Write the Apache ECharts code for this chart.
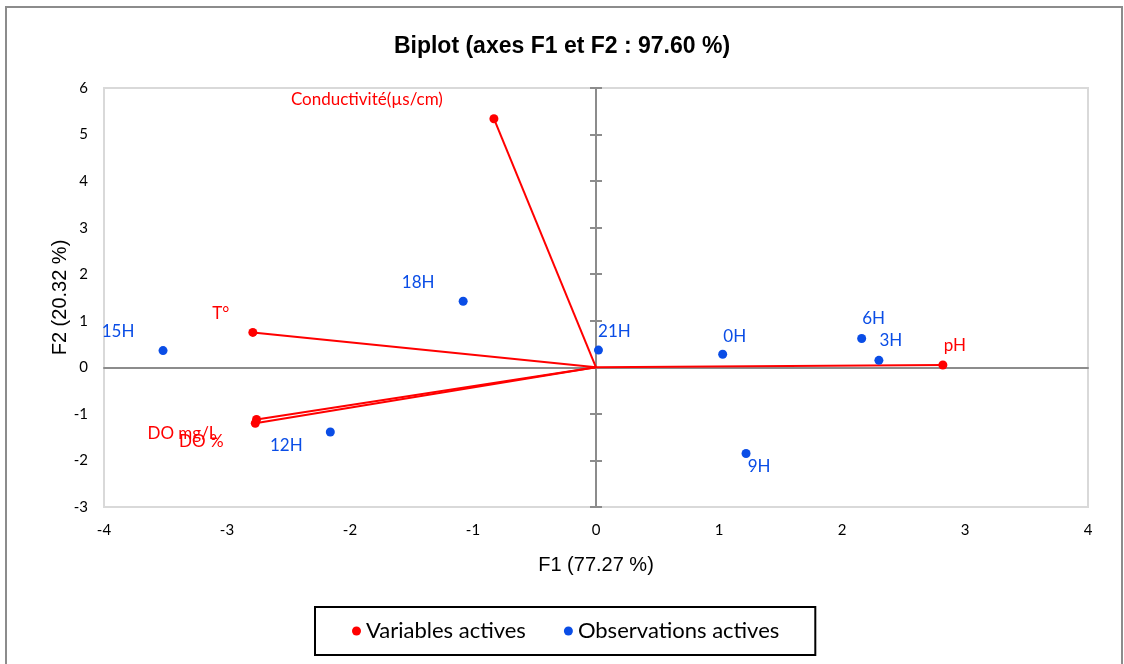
<!DOCTYPE html>
<html>
<head>
<meta charset="utf-8">
<script src="https://cdn.jsdelivr.net/npm/echarts@6/dist/echarts.min.js"></script>
<style>html,body{margin:0;padding:0;background:#fff}#c{width:1124px;height:664px}</style>
</head>
<body>
<div id="c"></div>
<script>
// ---- data ----
const varNames = ['Conductivité(µs/cm)', 'T°', 'DO mg/L', 'DO %', 'pH'];
const varF1 = [-0.83, -2.79, -2.76, -2.77, 2.82];
const varF2 = [5.34, 0.75, -1.12, -1.20, 0.05];
const obsNames = ['15H', '18H', '21H', '0H', '6H', '3H', '9H', '12H'];
const obsF1 = [-3.52, -1.08, 0.02, 1.03, 2.16, 2.30, 1.22, -2.16];
const obsF2 = [0.36, 1.42, 0.37, 0.28, 0.62, 0.15, -1.85, -1.39];
const xTicks = [-4, -3, -2, -1, 0, 1, 2, 3, 4];
const yTicks = [-3, -2, -1, 0, 1, 2, 3, 4, 5, 6];

// ---- label offsets (style) ----
const varLabelOffset = [[-127, -19], [-32, -19], [-74, 14], [-54, 18], [12, -19]];
const obsLabelOffset = [[-45, -19], [-45, -19], [16, -19], [12, -18], [12, -20], [12, -20], [13, 13], [-44, 13]];

const RED = '#ff0000';
const BLUE = '#0a4de6';
const labelFont = 'Lato, "Open Sans", sans-serif';
const arial = '"Liberation Sans", Arial, sans-serif';

const chart = echarts.init(document.getElementById('c'));

const vectorSeries = varNames.map((n, i) => ({
  type: 'line',
  name: 'vec' + i,
  xAxisIndex: 0, yAxisIndex: 0,
  data: [[0, 0], [varF1[i], varF2[i]]],
  symbol: 'none',
  lineStyle: { color: RED, width: 2 },
  silent: true,
  z: 3
}));

const baseX = {
  type: 'value', min: xTicks[0], max: xTicks[xTicks.length - 1], interval: 1,
  splitLine: { show: false }
};
const baseY = {
  type: 'value', min: yTicks[0], max: yTicks[yTicks.length - 1], interval: 1,
  splitLine: { show: false }
};

chart.setOption({
  animation: false,
  backgroundColor: '#fff',
  title: {
    text: 'Biplot (axes F1 et F2 : 97.60 %)',
    left: 'center', top: 30,
    textStyle: { fontFamily: arial, fontWeight: 'bold', fontSize: 23, color: '#000' }
  },
  graphic: [{
    type: 'rect', silent: true,
    shape: { x: 6, y: 7, width: 1116, height: 700 },
    style: { fill: 'none', stroke: '#8c8c8c', lineWidth: 2 }
  }],
  legend: {
    data: ['Variables actives', 'Observations actives'],
    left: 315, top: 607,
    padding: [13, 36, 13, 37],
    itemGap: 38,
    itemWidth: 9, itemHeight: 9,
    borderColor: '#000', borderWidth: 2,
    icon: 'circle',
    textStyle: { fontFamily: labelFont, fontSize: 22, color: '#000' }
  },
  grid: {
    left: 104, right: 36, top: 88, bottom: 157,
    show: true, borderColor: '#d9d9d9', borderWidth: 2, backgroundColor: 'transparent'
  },
  xAxis: [
    Object.assign({}, baseX, {
      position: 'bottom',
      axisLine: { show: false, onZero: false },
      axisTick: { show: false },
      axisLabel: { show: true, margin: 16, color: '#000', fontSize: 15, fontFamily: labelFont },
      name: 'F1 (77.27 %)', nameLocation: 'middle', nameGap: 48,
      nameTextStyle: { fontFamily: arial, fontSize: 20, color: '#000' }
    }),
    Object.assign({}, baseX, {
      axisLine: { show: true, onZero: true, lineStyle: { color: '#8c8c8c', width: 2 } },
      axisTick: { show: false },
      axisLabel: { show: false }
    })
  ],
  yAxis: [
    Object.assign({}, baseY, {
      position: 'left',
      axisLine: { show: false, onZero: false },
      axisTick: { show: false },
      axisLabel: { show: true, margin: 16, color: '#000', fontSize: 15, fontFamily: labelFont },
      name: 'F2 (20.32 %)', nameLocation: 'middle', nameGap: 34, nameRotate: 90,
      nameMoveOverlap: false,
      nameTextStyle: { fontFamily: arial, fontSize: 20, color: '#000' }
    }),
    Object.assign({}, baseY, {
      axisLine: { show: true, onZero: true, lineStyle: { color: '#8c8c8c', width: 2 } },
      axisTick: { show: true, inside: true, length: 6, lineStyle: { color: '#8c8c8c', width: 2 } },
      axisLabel: { show: false }
    }),
    Object.assign({}, baseY, {
      axisLine: { show: false, onZero: true },
      axisTick: { show: true, inside: false, length: 6, lineStyle: { color: '#8c8c8c', width: 2 } },
      axisLabel: { show: false }
    })
  ],
  series: vectorSeries.concat([
    {
      type: 'scatter',
      name: 'Variables actives',
      xAxisIndex: 0, yAxisIndex: 0,
      symbol: 'circle', symbolSize: 9,
      itemStyle: { color: RED, opacity: 1 },
      z: 5,
      data: varNames.map((n, i) => ({
        value: [varF1[i], varF2[i]], name: n,
        label: { show: true, position: 'inside', offset: varLabelOffset[i], formatter: n,
                 color: RED, fontSize: 17, fontFamily: labelFont }
      }))
    },
    {
      type: 'scatter',
      name: 'Observations actives',
      xAxisIndex: 0, yAxisIndex: 0,
      symbol: 'circle', symbolSize: 9,
      itemStyle: { color: BLUE, opacity: 1 },
      z: 5,
      data: obsNames.map((n, i) => ({
        value: [obsF1[i], obsF2[i]], name: n,
        label: { show: true, position: 'inside', offset: obsLabelOffset[i], formatter: n,
                 color: BLUE, fontSize: 17, fontFamily: labelFont }
      }))
    }
  ])
});
</script>
</body>
</html>
